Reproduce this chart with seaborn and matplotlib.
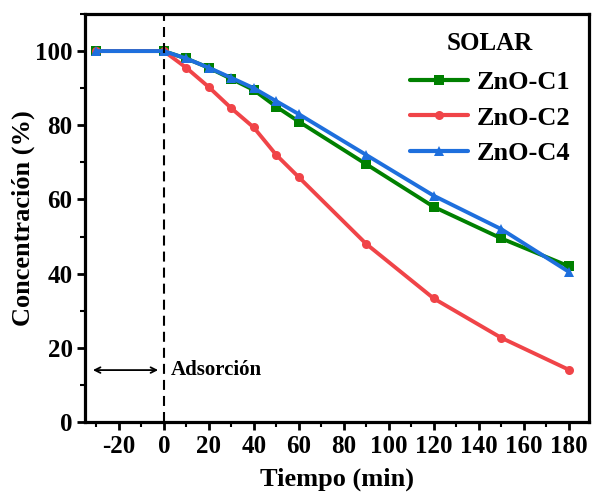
import pandas as pd
import seaborn as sns
import matplotlib.pyplot as plt
from matplotlib.ticker import MultipleLocator

tiempo = [-30, 0, 10, 20, 30, 40, 50, 60, 90, 120, 150, 180]
zno_c1 = [100, 100, 98, 95.5, 92.5, 89.5, 85, 81, 69.5, 58, 49.5, 42]
zno_c2 = [100, 100, 95.5, 90.3, 84.6, 79.4, 72, 66, 48, 33.3, 22.7, 14.1]
zno_c4 = [100, 100, 98, 95.5, 92.8, 90, 86.5, 83, 72, 61, 52, 40.5]
series = ['ZnO-C1', 'ZnO-C2', 'ZnO-C4']

df = pd.concat([
    pd.DataFrame({'Tiempo': tiempo, 'C': vals, 'Muestra': name})
    for name, vals in zip(series, [zno_c1, zno_c2, zno_c4])
])

sns.set_style('ticks', {'text.color': 'black', 'axes.labelcolor': 'black',
                        'xtick.color': 'black', 'ytick.color': 'black',
                        'axes.edgecolor': 'black'})
plt.rcParams['font.family'] = ['Liberation Serif', 'DejaVu Serif']
plt.rcParams['font.weight'] = 'bold'
plt.rcParams['axes.unicode_minus'] = False

fig = plt.figure(figsize=(5.92, 4.94), dpi=100)
ax = fig.add_axes([0.1436, 0.1457, 0.8514, 0.826])

colors = {'ZnO-C1': '#008000', 'ZnO-C2': '#F04448', 'ZnO-C4': '#1E6FDD'}
markers = {'ZnO-C1': 's', 'ZnO-C2': 'o', 'ZnO-C4': '^'}
sns.lineplot(data=df, x='Tiempo', y='C', hue='Muestra', style='Muestra',
             palette=colors, markers=markers, dashes=False, linewidth=2.8,
             markersize=6.5, markeredgewidth=0, ax=ax)

ax.axvline(0, color='black', linestyle=(0, (4.8, 2.9)), linewidth=1.5)
ax.annotate('', xy=(-31.5, 14), xytext=(-2.5, 14),
            arrowprops=dict(arrowstyle='<->', color='black', lw=1.3,
                            shrinkA=0, shrinkB=0))
ax.text(3, 14, 'Adsorción', fontsize=15, fontweight='bold', va='center')

ax.set_xlim(-35, 189)
ax.set_ylim(0, 110)
ax.xaxis.set_minor_locator(MultipleLocator(10))
ax.yaxis.set_minor_locator(MultipleLocator(10))
ax.set_xticks(range(-20, 181, 20))
ax.set_yticks(range(0, 101, 20))
ax.tick_params(which='major', length=6, width=2, labelsize=18, direction='out', pad=3)
ax.tick_params(which='minor', length=3.5, width=1.5, direction='out')
for lab in ax.get_xticklabels() + ax.get_yticklabels():
    lab.set_fontweight('bold')
for s in ax.spines.values():
    s.set_linewidth(2.3)
    s.set_visible(True)

ax.set_xlabel('Tiempo (min)', fontsize=19, fontweight='bold', labelpad=7)
ax.set_ylabel('Concentración (%)', fontsize=19, fontweight='bold', labelpad=0)

leg = ax.legend(title='SOLAR', loc='upper right', frameon=False,
                prop={'size': 19, 'weight': 'bold'}, handlelength=2.2,
                borderaxespad=0.3, labelspacing=0.45, handletextpad=0.35)
leg.get_title().set_fontsize(18)
leg.get_title().set_fontweight('bold')
leg._legend_box.sep = 11
for h in leg.get_lines():
    h.set_linewidth(3)

fig.savefig('out.png', dpi=100)
